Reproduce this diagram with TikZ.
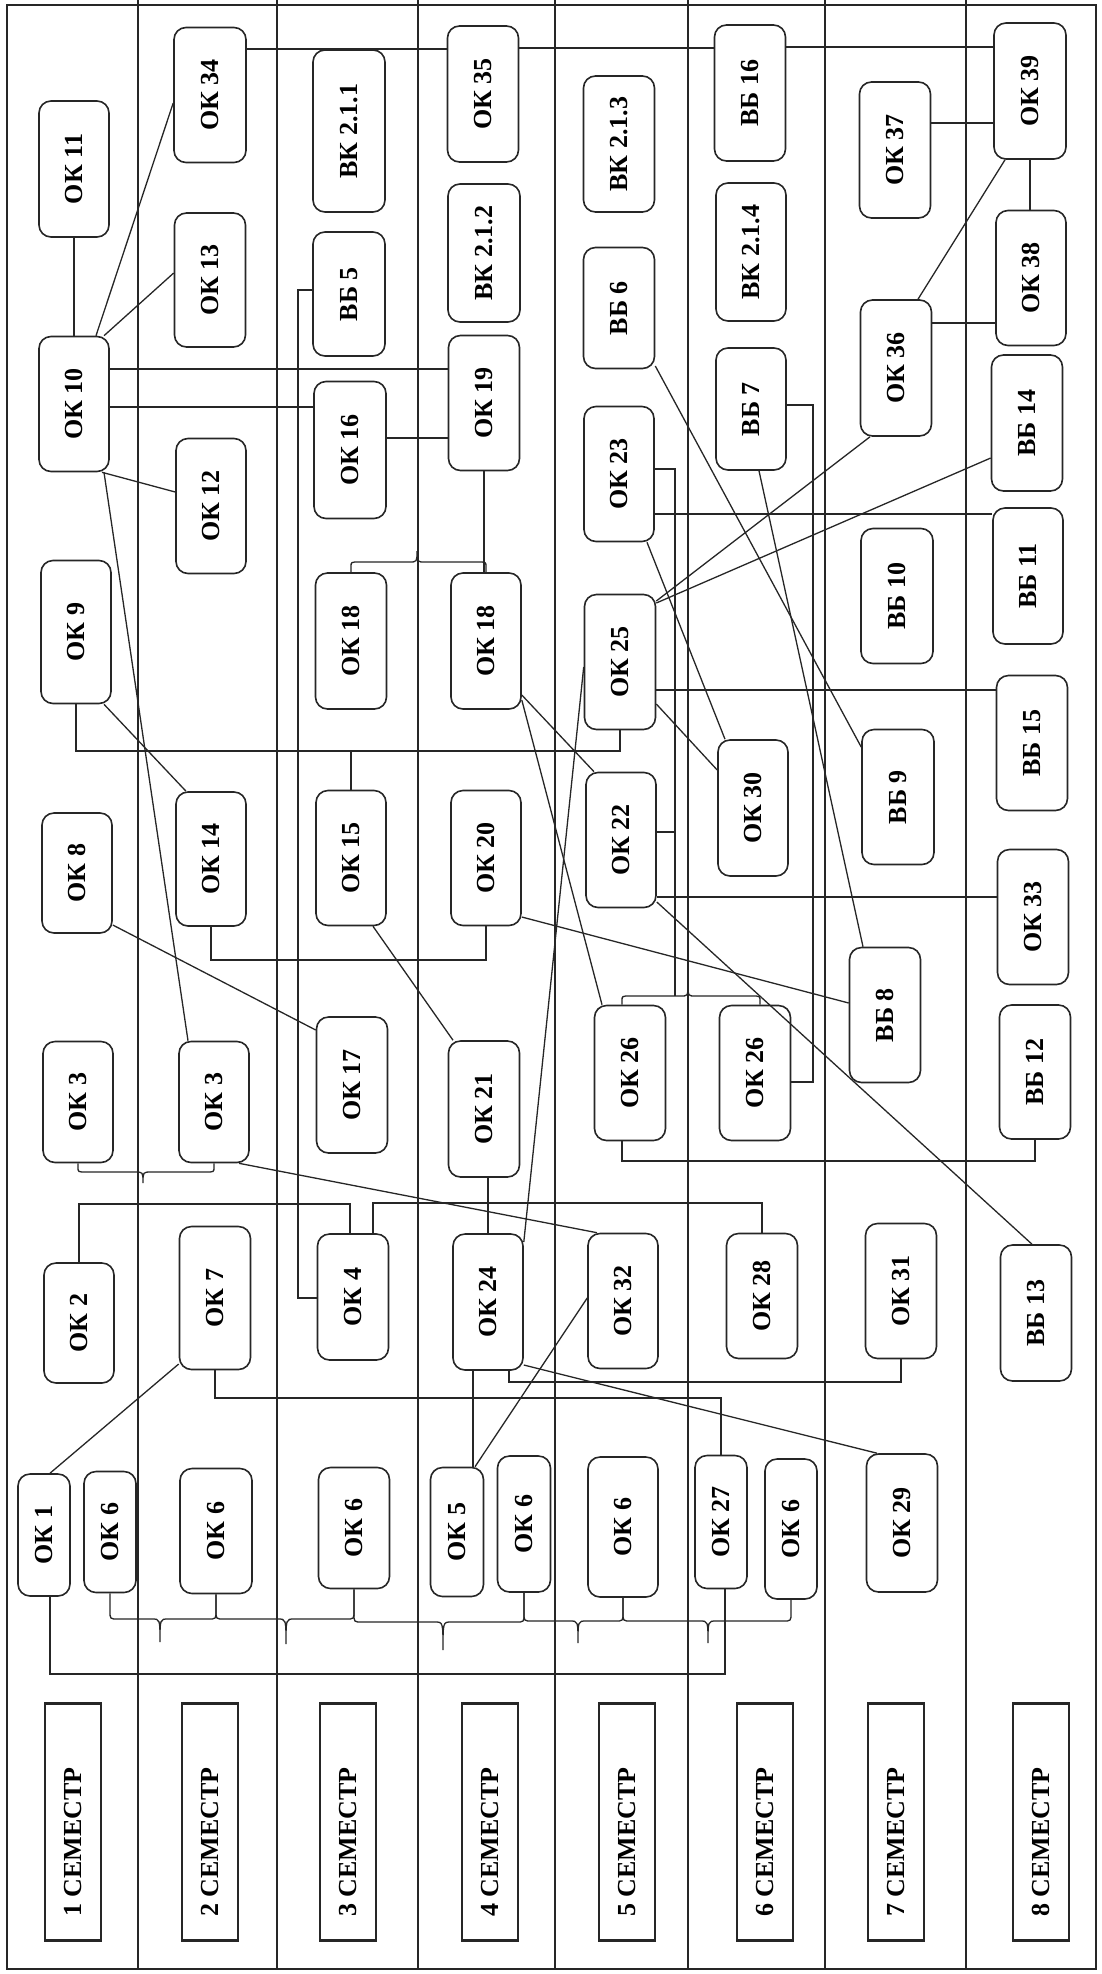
\documentclass[tikz,border=0pt]{standalone}
\usepackage{fontspec}
\setmainfont{Liberation Serif}
\usepackage{graphicx}
\usetikzlibrary{calc}
\definecolor{ink}{RGB}{38,38,38}
\tikzset{
  box/.style={draw=ink, line width=1.6pt, rounded corners=12pt, inner sep=0pt, text=black, font=\bfseries\fontsize{26}{28}\selectfont},
  conn/.style={draw=ink, line width=1.3pt},
  semlbl/.style={draw=ink, line width=2.2pt, inner sep=0pt, minimum width=56pt, minimum height=237pt, text=black, font=\bfseries\fontsize{26}{28}\selectfont},
  gridline/.style={draw=ink, line width=1.5pt}
}
\newcommand\bx[6]{\node[box, minimum width=#4pt, minimum height=#5pt] (#1) at (#2,#3) {\rotatebox{90}{#6}};}
% #1 start anchor, #2 x start, #3 end anchor, #4 x end, #5 arm y, #6 leg y, #7 tip x, #8 tip y
\newcommand\mybrace[8]{\draw[conn] (#1) -- (#2,#6) .. controls (#2,#5) .. (#2+8,#5) -- (#7-8,#5) .. controls (#7,#5) .. (#7,#8) .. controls (#7,#5) .. (#7+8,#5) -- (#4-8,#5) .. controls (#4,#5) .. (#4,#6) -- (#3);}
\begin{document}
\begin{tikzpicture}[x=1pt,y=-1pt]
\fill[white] (0,0) rectangle (1102,1974);
\useasboundingbox (0,0) rectangle (1102,1974);
% frame and semester columns
\draw[gridline] (7,5) rectangle (1096,1969);
\foreach \x in {138,277,418,555,688,825,966} \draw[gridline] (\x,0) -- (\x,1969);

% column 1
\bx{ok11}{74}{169}{70}{136}{ОК 11}
\bx{ok10}{74}{404}{70}{135}{ОК 10}
\bx{ok9}{76}{632}{70}{143}{ОК 9}
\bx{ok8}{77}{873}{70}{120}{ОК 8}
\bx{ok3a}{78}{1102}{70}{121}{ОК 3}
\bx{ok2}{79}{1323}{70}{120}{ОК 2}
\bx{ok1}{44}{1535}{52}{122}{ОК 1}
\bx{ok6a}{110}{1532}{52}{121}{ОК 6}
% column 2
\bx{ok34}{210}{95}{72}{135}{ОК 34}
\bx{ok13}{210}{280}{71}{134}{ОК 13}
\bx{ok12}{211}{506}{70}{135}{ОК 12}
\bx{ok14}{211}{859}{70}{134}{ОК 14}
\bx{ok3b}{214}{1102}{70}{121}{ОК 3}
\bx{ok7}{215}{1298}{71}{143}{ОК 7}
\bx{ok6b}{216}{1531}{72}{125}{ОК 6}
% column 3
\bx{vk211}{349}{131}{72}{162}{ВК 2.1.1}
\bx{vb5}{349}{294}{72}{124}{ВБ 5}
\bx{ok16}{350}{450}{72}{137}{ОК 16}
\bx{ok18a}{351}{641}{71}{136}{ОК 18}
\bx{ok15}{351}{858}{70}{135}{ОК 15}
\bx{ok17}{352}{1085}{71}{136}{ОК 17}
\bx{ok4}{353}{1297}{71}{126}{ОК 4}
\bx{ok6c}{354}{1528}{71}{121}{ОК 6}
% column 4
\bx{ok35}{483}{94}{71}{136}{ОК 35}
\bx{vk212}{484}{253}{72}{138}{ВК 2.1.2}
\bx{ok19}{484}{403}{71}{135}{ОК 19}
\bx{ok18b}{486}{641}{70}{136}{ОК 18}
\bx{ok20}{486}{858}{70}{135}{ОК 20}
\bx{ok21}{484}{1109}{71}{136}{ОК 21}
\bx{ok24}{488}{1302}{70}{136}{ОК 24}
\bx{ok5}{457}{1532}{53}{129}{ОК 5}
\bx{ok6d}{524}{1524}{53}{136}{ОК 6}
% column 5
\bx{vk213}{619}{144}{71}{136}{ВК 2.1.3}
\bx{vb6}{619}{308}{71}{121}{ВБ 6}
\bx{ok23}{619}{474}{70}{135}{ОК 23}
\bx{ok25}{620}{662}{71}{135}{ОК 25}
\bx{ok22}{621}{840}{70}{135}{ОК 22}
\bx{ok26a}{630}{1073}{71}{135}{ОК 26}
\bx{ok32}{623}{1301}{70}{135}{ОК 32}
\bx{ok6e}{623}{1527}{70}{140}{ОК 6}
% column 6
\bx{vb16}{750}{93}{71}{136}{ВБ 16}
\bx{vk214}{751}{252}{70}{138}{ВК 2.1.4}
\bx{vb7}{751}{409}{70}{122}{ВБ 7}
\bx{ok30}{753}{808}{70}{136}{ОК 30}
\bx{ok26b}{755}{1073}{71}{135}{ОК 26}
\bx{ok28}{762}{1296}{71}{125}{ОК 28}
\bx{ok27}{721}{1522}{52}{133}{ОК 27}
\bx{ok6f}{791}{1529}{52}{140}{ОК 6}
% column 7
\bx{ok37}{895}{150}{71}{136}{ОК 37}
\bx{ok36}{896}{368}{71}{136}{ОК 36}
\bx{vb10}{897}{596}{72}{135}{ВБ 10}
\bx{vb9}{898}{797}{72}{135}{ВБ 9}
\bx{vb8}{885}{1015}{71}{135}{ВБ 8}
\bx{ok31}{901}{1291}{71}{135}{ОК 31}
\bx{ok29}{902}{1523}{71}{138}{ОК 29}
% column 8
\bx{ok39}{1030}{91}{72}{136}{ОК 39}
\bx{ok38}{1031}{278}{70}{135}{ОК 38}
\bx{vb14}{1027}{423}{71}{136}{ВБ 14}
\bx{vb11}{1028}{576}{70}{136}{ВБ 11}
\bx{vb15}{1032}{743}{71}{135}{ВБ 15}
\bx{ok33}{1033}{917}{71}{135}{ОК 33}
\bx{vb12}{1035}{1072}{71}{134}{ВБ 12}
\bx{vb13}{1036}{1313}{71}{136}{ВБ 13}

% semester labels
\foreach \i/\x in {1/73,2/210,3/348,4/490,5/627,6/765,7/896,8/1041}
  \node[semlbl] (s\i) at (\x,1822) {\rotatebox{90}{\i\ СЕМЕСТР\hspace{40pt}}};

% connectors
\draw[conn] (ok11.south) -- (ok10.north);
\draw[conn] ([xshift=22pt]ok10.north) -- (ok34.west |- 0,103);
\draw[conn] ([xshift=30pt]ok10.north) -- (ok13.west |- 0,273);
\draw[conn] (ok10.east |- 0,369) -- (ok19.west |- 0,369);
\draw[conn] (ok10.east |- 0,407) -- (ok16.west |- 0,407);
\draw[conn] (ok16.east |- 0,438) -- (ok19.west |- 0,438);
\draw[conn] (ok34.east |- 0,49) -- (ok35.west |- 0,49);
\draw[conn] (ok35.east |- 0,48) -- (vb16.west |- 0,48);
\draw[conn] (vb16.east |- 0,47) -- (ok39.west |- 0,47);
\draw[conn] ([xshift=28pt]ok10.south) -- (ok12.west |- 0,492);
\draw[conn] ([xshift=30pt]ok10.south) -- ([xshift=-26pt]ok3b.north);
\draw[conn] (vb5.west |- 0,290) -- (298,290) -- (298,1298) -- (ok4.west |- 0,1298);
\draw[conn] (ok9.south) -- (ok9.south |- 0,751) -| (ok25.south);
\draw[conn] (ok15.north) -- (ok15.north |- 0,751);
\draw[conn] ([xshift=28pt]ok9.south) -- ([xshift=-25pt]ok14.north);
\draw[conn] (ok14.south) -- (ok14.south |- 0,960) -| (ok20.south);
\draw[conn] ([xshift=22pt]ok15.south) -- ([xshift=-31pt]ok21.north);
\draw[conn] (ok8.east |- 0,925) -- (ok17.west |- 0,1030);
\draw[conn] (ok19.south) -- (ok19.south |- ok18b.north);
\draw[conn] (ok18b.east |- 0,695) -- ([xshift=-27pt]ok22.north);
\draw[conn] (ok18b.east |- 0,700) -- ([xshift=-28pt]ok26a.north);
\draw[conn] (ok20.east |- 0,917) -- (vb8.west |- 0,1003);
\draw[conn] (ok24.east |- 0,1242) -- (ok25.west |- 0,667);
\draw[conn] ([xshift=25pt]ok3b.south) -- ([xshift=-26pt]ok32.north);
\draw[conn] (ok24.north |- ok21.south) -- (ok24.north);
\draw[conn] (ok2.north) -- (ok2.north |- 0,1204) -| ([xshift=-3pt]ok4.north);
\draw[conn] ([xshift=20pt]ok4.north) -- (373,1203) -| (ok28.north);
\draw[conn] (ok7.west |- 0,1364) -- ([xshift=6pt]ok1.north);
\draw[conn] (ok7.south) -- (ok7.south |- 0,1398) -| (ok27.north);
\draw[conn] ([xshift=-15pt]ok24.south) -- ([xshift=16pt]ok5.north);
\draw[conn] ([xshift=21pt]ok24.south) -- (509,1382) -| (ok31.south);
\draw[conn] (ok24.east |- 0,1365) -- ([xshift=-25pt]ok29.north);
\draw[conn] ([xshift=18pt]ok5.north) -- (ok32.west |- 0,1298);
\draw[conn] ([xshift=6pt]ok1.south) -- (50,1674) -| ([xshift=4pt]ok27.south);
\draw[conn] ([xshift=-8pt]ok26a.south) -- (622,1161) -| (vb12.south);
\draw[conn] (ok26b.east |- 0,1082) -- (813,1082) -- (813,405) -- (vb7.east |- 0,405);
\draw[conn] (ok23.east |- 0,469) -- (675,469) -- (675,996);
\draw[conn] (ok22.east |- 0,832) -- (675,832);
\draw[conn] (ok23.east |- 0,514) -- (vb11.west |- 0,514);
\draw[conn] ([xshift=28pt]ok23.south) -- ([xshift=-28pt]ok30.north);
\draw[conn] (ok25.east |- 0,690) -- (vb15.west |- 0,690);
\draw[conn] (ok25.east |- 0,704) -- (ok30.west |- 0,770);
\draw[conn] (ok22.east |- 0,897) -- (ok33.west |- 0,897);
\draw[conn] (ok22.east |- 0,902) -- ([xshift=-4pt]vb13.north);
\draw[conn] ([xshift=-26pt]ok36.south) -- (ok25.east |- 0,601);
\draw[conn] (vb14.west |- 0,458) -- (ok25.east |- 0,603);
\draw[conn] (vb6.east |- 0,366) -- (vb9.west |- 0,747);
\draw[conn] ([xshift=8pt]vb7.south) -- ([xshift=-22pt]vb8.north);
\draw[conn] ([xshift=-25pt]ok39.south) -- ([xshift=22pt]ok36.north);
\draw[conn] (ok39.south) -- (ok39.south |- ok38.north);
\draw[conn] (ok36.east |- 0,323) -- (ok38.west |- 0,323);
\draw[conn] (ok37.east |- 0,123) -- (ok39.west |- 0,123);

% braces
\mybrace{ok18a.north}{351}{ok18b.north}{486}{562}{567}{417}{551}
\mybrace{ok3a.south}{78}{ok3b.south}{214}{1172}{1167}{143}{1183}
\mybrace{$(ok26a.north)+(-8,0)$}{622}{$(ok26b.north)+(5,0)$}{760}{996}{1001}{688}{986}
\mybrace{ok6a.south}{110}{ok6b.south}{216}{1619}{1611}{160}{1642}
\mybrace{ok6b.south}{216}{ok6c.south}{354}{1619}{1611}{286}{1644}
\mybrace{ok6c.south}{354}{ok6d.south}{524}{1622}{1614}{443}{1650}
\mybrace{ok6d.south}{524}{ok6e.south}{623}{1621}{1613}{578}{1643}
\mybrace{ok6e.south}{623}{ok6f.south}{791}{1621}{1613}{708}{1643}
\end{tikzpicture}
\end{document}
